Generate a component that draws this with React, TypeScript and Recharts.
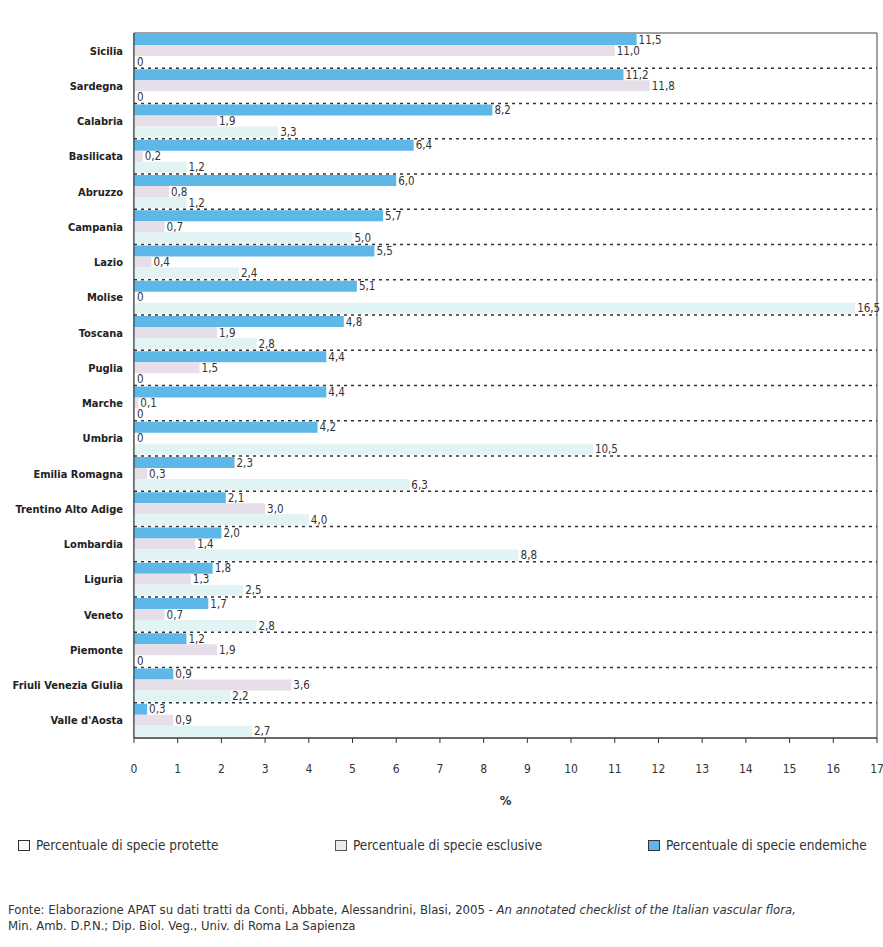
import { BarChart, Bar, XAxis, YAxis, CartesianGrid, ReferenceArea, LabelList } from 'recharts';

// ─── Data ─────────────────────────────────────────────────────────────────────

const REGIONS = [
    'Sicilia', 'Sardegna', 'Calabria', 'Basilicata', 'Abruzzo', 'Campania', 'Lazio', 'Molise',
    'Toscana', 'Puglia', 'Marche', 'Umbria', 'Emilia Romagna', 'Trentino Alto Adige', 'Lombardia',
    'Liguria', 'Veneto', 'Piemonte', 'Friuli Venezia Giulia', "Valle d'Aosta",
];
const ENDEMICHE = [11.5, 11.2, 8.2, 6.4, 6.0, 5.7, 5.5, 5.1, 4.8, 4.4, 4.4, 4.2, 2.3, 2.1, 2.0, 1.8, 1.7, 1.2, 0.9, 0.3];
const ESCLUSIVE = [11.0, 11.8, 1.9, 0.2, 0.8, 0.7, 0.4, 0, 1.9, 1.5, 0.1, 0, 0.3, 3.0, 1.4, 1.3, 0.7, 1.9, 3.6, 0.9];
const PROTETTE = [0, 0, 3.3, 1.2, 1.2, 5.0, 2.4, 16.5, 2.8, 0, 0, 10.5, 6.3, 4.0, 8.8, 2.5, 2.8, 0, 2.2, 2.7];
const X_TICKS = [0, 1, 2, 3, 4, 5, 6, 7, 8, 9, 10, 11, 12, 13, 14, 15, 16, 17];

const LEGEND = [
    { label: 'Percentuale di specie protette', fill: '#f4fbfb', stroke: '#333', left: 18 },
    { label: 'Percentuale di specie esclusive', fill: '#eee8ef', stroke: '#555', left: 335 },
    { label: 'Percentuale di specie endemiche', fill: '#5db8e8', stroke: '#333', left: 648 },
];

// ─── Styles ───────────────────────────────────────────────────────────────────

const NARROW = "'Liberation Sans Narrow', 'DejaVu Sans Condensed', 'Arial Narrow', sans-serif";
const BLUE = '#5db8e8';
const LAVENDER = '#e6dfea';
const PALE = '#e2f3f4';

const fmt = (v: unknown) => {
    const n = Number(v);
    if (!Number.isFinite(n)) return '';
    return n === 0 ? '0' : n.toFixed(1).replace('.', ',');
};

const labelStyle = { fontSize: 11.5, fill: '#333', fontFamily: NARROW };

function RegionTick({ x, y, payload }: any) {
    return (
        <text x={x} y={y} dy={4} textAnchor="end" fontSize={11} fontWeight="bold" fill="#222" fontFamily={NARROW}>
            {payload.value}
        </text>
    );
}

export default function App() {
    const data = REGIONS.map((region, i) => ({
        region,
        endemiche: ENDEMICHE[i],
        esclusive: ESCLUSIVE[i],
        protette: PROTETTE[i],
    }));

    return (
        <div style={{ position: 'absolute', left: 0, top: 0, width: 883, height: 947, background: '#fff' }}>
            <BarChart
                width={883}
                height={815}
                data={data}
                layout="vertical"
                margin={{ top: 33, right: 6, bottom: 0, left: 0 }}
                barCategoryGap="3%"
                barGap={0}
            >
                <CartesianGrid
                    vertical={false}
                    stroke="#333"
                    strokeWidth={1.4}
                    strokeDasharray="3 4"
                    horizontalCoordinatesGenerator={({ offset }: any) =>
                        REGIONS.slice(1).map((_, i) => offset.top + ((i + 1) * offset.height) / REGIONS.length)
                    }
                />
                <XAxis
                    type="number"
                    domain={[0, 17]}
                    ticks={X_TICKS}
                    interval={0}
                    height={77}
                    stroke="#333"
                    tickSize={5}
                    tickMargin={21}
                    tick={{ fontSize: 12, fill: '#333', fontFamily: NARROW }}
                    label={{ value: '%', position: 'insideBottom', offset: 10, style: { fontSize: 13, fill: '#333', fontFamily: NARROW, fontWeight: 'bold' } }}
                />
                <YAxis
                    type="category"
                    dataKey="region"
                    width={134}
                    stroke="#333"
                    tickLine={false}
                    tickSize={0}
                    tickMargin={11}
                    interval={0}
                    tick={<RegionTick />}
                />
                <ReferenceArea x1={0} x2={17} fill="none" stroke="#444" strokeWidth={1} />
                <Bar dataKey="endemiche" fill={BLUE} minPointSize={1} isAnimationActive={false}>
                    <LabelList dataKey="endemiche" position="right" offset={2} formatter={fmt} style={labelStyle} />
                </Bar>
                <Bar dataKey="esclusive" fill={LAVENDER} minPointSize={1} isAnimationActive={false}>
                    <LabelList dataKey="esclusive" position="right" offset={2} formatter={fmt} style={labelStyle} />
                </Bar>
                <Bar dataKey="protette" fill={PALE} minPointSize={1} isAnimationActive={false}>
                    <LabelList dataKey="protette" position="right" offset={2} formatter={fmt} style={labelStyle} />
                </Bar>
            </BarChart>

            {LEGEND.map((item) => (
                <div
                    key={item.label}
                    style={{
                        position: 'absolute', top: 837, left: item.left,
                        display: 'flex', alignItems: 'center', gap: 6,
                        fontFamily: NARROW, fontSize: 13.5, color: '#333',
                    }}
                >
                    <span style={{ width: 10, height: 9, background: item.fill, border: `1px solid ${item.stroke}`, display: 'inline-block' }} />
                    {item.label}
                </div>
            ))}

            <div
                style={{
                    position: 'absolute', top: 902, left: 8, right: 0,
                    fontFamily: NARROW, fontSize: 13, lineHeight: '16px', color: '#333', whiteSpace: 'nowrap',
                }}
            >
                <div>
                    Fonte: Elaborazione APAT su dati tratti da Conti, Abbate, Alessandrini, Blasi, 2005 -{' '}
                    <i>An annotated checklist of the Italian vascular flora,</i>
                </div>
                <div>Min. Amb. D.P.N.; Dip. Biol. Veg., Univ. di Roma La Sapienza</div>
            </div>
        </div>
    );
}
